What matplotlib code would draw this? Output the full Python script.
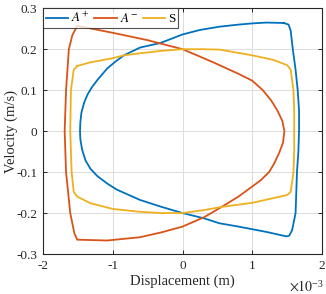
import matplotlib
matplotlib.use("Agg")
import matplotlib.pyplot as plt
import numpy as np

plt.rcParams['font.family'] = ['Liberation Serif', 'DejaVu Serif']
plt.rcParams['mathtext.fontset'] = 'stix'

# Displacement in mm (x 1e-3 m), velocity in m/s
a_plus_x = [1.45, 1.52, 1.55, 1.58, 1.62, 1.65, 1.67, 1.67, 1.66, 1.64, 1.62, 1.57, 1.53, 1.49,
            1.2, 0.8, 0.53, 0.31, 0.0, -0.3, -0.61, -0.94, -1.08, -1.22, -1.32, -1.39, -1.44, -1.465, -1.47,
            -1.465, -1.45, -1.41, -1.36, -1.30, -1.22, -1.08, -0.96, -0.84, -0.61, -0.32, 0.0, 0.25, 0.53, 0.8, 1.0, 1.2, 1.45]
a_plus_v = [0.264, 0.26, 0.245, 0.2, 0.15, 0.1, 0.05, 0.0, -0.05, -0.1, -0.2, -0.242, -0.255, -0.257,
            -0.246, -0.233, -0.225, -0.213, -0.2, -0.185, -0.168, -0.143, -0.128, -0.11, -0.092, -0.072, -0.045, -0.02, 0.0,
            0.022, 0.045, 0.07, 0.09, 0.107, 0.125, 0.153, 0.17, 0.185, 0.204, 0.215, 0.236, 0.247, 0.255, 0.26, 0.263, 0.265, 0.264]

a_minus_x = [-1.51, -1.0, -0.5, -0.32, 0.0, 0.44, 0.8, 1.0, 1.15, 1.27, 1.36, 1.43, 1.46,
             1.44, 1.385, 1.31, 1.24, 1.12, 1.0, 0.8, 0.56, 0.31, 0.0, -0.3, -0.61, -1.08, -1.3, -1.51,
             -1.55, -1.61, -1.64, -1.67, -1.69, -1.67, -1.63, -1.58, -1.51]
a_minus_v = [0.257, 0.24, 0.222, 0.214, 0.2, 0.168, 0.14, 0.123, 0.1, 0.075, 0.05, 0.025, 0.0,
             -0.028, -0.053, -0.08, -0.1, -0.12, -0.135, -0.16, -0.185, -0.21, -0.233, -0.247, -0.259, -0.267, -0.266, -0.265,
             -0.25, -0.2, -0.15, -0.1, 0.0, 0.1, 0.2, 0.234, 0.257]

s_x = [-1.51, -1.32, -1.0, -0.84, -0.61, -0.3, 0.0, 0.3, 0.53, 1.0, 1.3, 1.50,
       1.55, 1.59, 1.60, 1.60, 1.59, 1.55, 1.50,
       1.0, 0.56, 0.3, 0.0, -0.3, -0.61, -1.0, -1.32, -1.51,
       -1.56, -1.59, -1.61, -1.60, -1.56, -1.51]
s_v = [0.159, 0.168, 0.178, 0.185, 0.19, 0.196, 0.2, 0.2, 0.199, 0.185, 0.174, 0.161,
       0.15, 0.1, 0.05, -0.05, -0.1, -0.148, -0.156,
       -0.175, -0.185, -0.193, -0.2, -0.2, -0.197, -0.19, -0.176, -0.16,
       -0.148, -0.1, 0.0, 0.1, 0.15, 0.159]

labels = ['$A^{+}$', '$A^{-}$', 'S']
colors = ['#0072BD', '#D95319', '#EDB120']
xticks = [-2, -1, 0, 1, 2]
yticks = [-0.3, -0.2, -0.1, 0, 0.1, 0.2, 0.3]
yticklabels = ['-0.3', '-0.2', '-0.1', '0', '0.1', '0.2', '0.3']

fig = plt.figure(figsize=(3.26, 2.94), dpi=100)
ax = fig.add_axes([0.132, 0.136, 0.856, 0.836])

series = [(a_plus_x, a_plus_v), (a_minus_x, a_minus_v), (s_x, s_v)]
for (xs, vs), lab, c in zip(series, labels, colors):
    ax.plot(np.array(xs) * 1e-3, vs, color=c, lw=1.3, label=lab)

ax.set_xlim(-2e-3, 2e-3)
ax.set_ylim(-0.3, 0.3)
ax.set_xticks(np.array(xticks) * 1e-3)
ax.set_xticklabels([str(t) for t in xticks])
ax.set_yticks(yticks)
ax.set_yticklabels(yticklabels)
ax.grid(True, color='#dcdcdc', lw=0.7)
ax.set_axisbelow(True)
ax.tick_params(direction='in', top=True, right=True, length=3, width=0.7,
               labelsize=9.5, colors='#262626', pad=4)
for sp in ax.spines.values():
    sp.set_color('#262626')
    sp.set_linewidth(0.8)

ax.set_xlabel('Displacement (m)', fontsize=10.5, color='#262626')
ax.set_ylabel('Velocity (m/s)', fontsize=10.5, color='#262626')
ax.xaxis.set_label_coords(0.5, -0.085)
ax.yaxis.set_label_coords(-0.09, 0.5)
ax.text(1.005, -0.152, r'$\times10^{\mathregular{-3}}$', transform=ax.transAxes,
        ha='right', va='baseline', fontsize=10, color='#262626')

leg = ax.legend(loc='upper left', ncol=3, fontsize=9.5, frameon=True, fancybox=False,
                edgecolor='#262626', handlelength=1.7, handletextpad=0.25,
                columnspacing=0.35, borderpad=0.2, borderaxespad=0.0)
leg.get_frame().set_linewidth(0.8)

fig.savefig('out.png', dpi=100)
